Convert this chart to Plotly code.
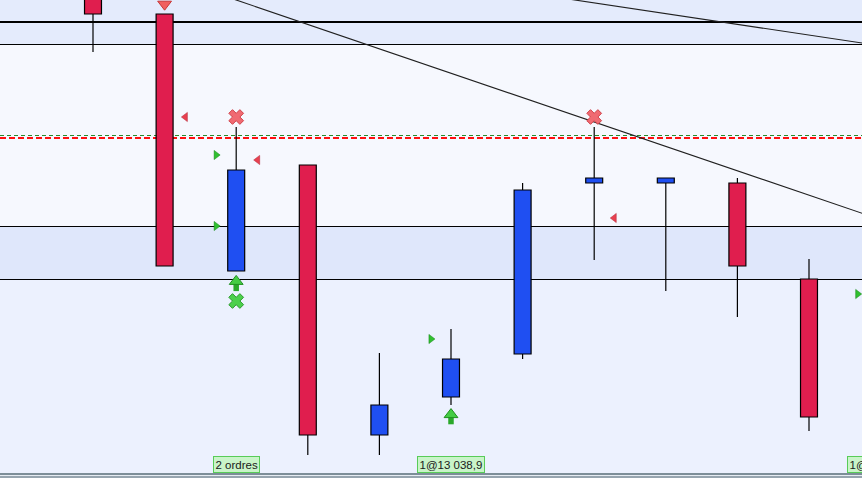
import plotly.graph_objects as go

# ---------------- data ----------------
candle_idx = list(range(11))
opens  = [13105.0, 13096.5, 13032.25, 13058.75, 12991.25, 13000.75, 13011.5, 13054.25, 13054.25, 13054.25, 13030.25]
highs  = [13108.0, 13096.5, 13068.25, 13058.75, 13011.75, 13017.75, 13054.25, 13068.25, 13055.5, 13055.5, 13035.25]
lows   = [13087.0, 13033.5, 13032.25, 12986.25, 12986.25, 12998.75, 13010.25, 13035.0, 13027.25, 13020.75, 12992.25]
closes = [13096.5, 13033.5, 13057.5, 12991.25, 12998.75, 13010.25, 13052.5, 13055.5, 13055.5, 13033.5, 12995.75]

# horizontal price levels
level_thick = 13094.5
levels_thin = [13088.875, 13043.375, 13030.125]
level_green_dash = 13066.125
level_red_dash = 13065.5

# background bands (low, high)
bands = [(13088.875, 13120.0), (13043.375, 13088.875), (13030.125, 13043.375), (12970.0, 13030.125)]
band_colors = ["#e4ebfc", "#f6f8fe", "#dfe7fb", "#ecf1fe"]

# trend lines (x0, y0, x1, y1) in candle index / price
trend_x0 = [1.0, 6.0]
trend_y0 = [13106.1, 13101.96]
trend_x1 = [11.0, 11.0]
trend_y1 = [13045.1, 13088.55]

# order markers
sell_arrow_x = [1.0]
sell_arrow_y = [13099.2]
buy_arrow_x = [2.0, 5.0]
buy_arrow_y = [13029.4, 12996.1]
red_x_x = [2.0, 7.0]
red_x_y = [13070.75, 13070.75]
green_x_x = [2.0]
green_x_y = [13024.75]
red_tri_x = [1.29, 2.3, 7.28]
red_tri_y = [13070.75, 13060.0, 13045.5]
green_tri_x = [1.72, 1.72, 4.72, 10.68]
green_tri_y = [13061.25, 13043.5, 13015.25, 13026.5]

# order labels
label_idx = [2, 5, 11]
label_text = ["2 ordres", "1@13 038,9", "1@13 038,9"]

# ---------------- figure ----------------
PX = 0.25  # price per pixel
SLOT = 71.6  # pixels per candle
up_color = "#1f4ff2"
down_color = "#e01e4e"
x0_idx = -93 / SLOT
x1_idx = (862 - 93) / SLOT

fig = go.Figure()

# wicks (split so they don't cross the bodies)
wx, wy = [], []
for i, o, h, l, c in zip(candle_idx, opens, highs, lows, closes):
    top, bot = max(o, c), min(o, c)
    if h > top:
        wx += [i, i, None]
        wy += [top, h, None]
    if l < bot:
        wx += [i, i, None]
        wy += [l, bot, None]
fig.add_trace(go.Scatter(x=wx, y=wy, mode="lines", line=dict(color="black", width=1.2),
                         hoverinfo="skip", showlegend=False))

# bodies
bases = [min(o, c) for o, c in zip(opens, closes)]
heights = [abs(c - o) for o, c in zip(opens, closes)]
colors = [up_color if c > o else down_color for o, c in zip(opens, closes)]
fig.add_trace(go.Bar(x=candle_idx, y=heights, base=bases, width=0.237,
                     marker=dict(color=colors, line=dict(color="black", width=1.2)),
                     hoverinfo="skip", showlegend=False))

# sell arrow (down): stem + head
fig.add_trace(go.Scatter(x=sell_arrow_x, y=[v + 4.5 * PX for v in sell_arrow_y], mode="markers",
                         marker=dict(symbol="line-ns", size=6, line=dict(color="#e85050", width=5)),
                         hoverinfo="skip", showlegend=False, cliponaxis=False))
fig.add_trace(go.Scatter(x=sell_arrow_x, y=[v - 1 * PX for v in sell_arrow_y], mode="markers",
                         marker=dict(symbol="triangle-down", size=12, color="#f06060",
                                     line=dict(color="#c83838", width=1)),
                         hoverinfo="skip", showlegend=False, cliponaxis=False))

# buy arrows (up): stem + head
fig.add_trace(go.Scatter(x=buy_arrow_x, y=[v - 4.5 * PX for v in buy_arrow_y], mode="markers",
                         marker=dict(symbol="line-ns", size=6, line=dict(color="#2aa82a", width=5.5)),
                         hoverinfo="skip", showlegend=False))
fig.add_trace(go.Scatter(x=buy_arrow_x, y=[v + 1 * PX for v in buy_arrow_y], mode="markers",
                         marker=dict(symbol="triangle-up", size=12, color="#44cc44",
                                     line=dict(color="#1f8f1f", width=1)),
                         hoverinfo="skip", showlegend=False))

# X markers
fig.add_trace(go.Scatter(x=red_x_x, y=red_x_y, mode="markers",
                         marker=dict(symbol="x", size=13, color="#f06a72",
                                     line=dict(color="#d04048", width=1)),
                         hoverinfo="skip", showlegend=False))
fig.add_trace(go.Scatter(x=green_x_x, y=green_x_y, mode="markers",
                         marker=dict(symbol="x", size=13, color="#4cd04c",
                                     line=dict(color="#2a9a2a", width=1)),
                         hoverinfo="skip", showlegend=False))

# small triangles
fig.add_trace(go.Scatter(x=red_tri_x, y=red_tri_y, mode="markers",
                         marker=dict(symbol="triangle-left", size=8, color="#e84050",
                                     line=dict(color="#b02030", width=0.5)),
                         hoverinfo="skip", showlegend=False))
fig.add_trace(go.Scatter(x=green_tri_x, y=green_tri_y, mode="markers",
                         marker=dict(symbol="triangle-right", size=8, color="#30c030",
                                     line=dict(color="#108010", width=0.5)),
                         hoverinfo="skip", showlegend=False))

shapes = []
for (lo, hi), col in zip(bands, band_colors):
    shapes.append(dict(type="rect", xref="paper", yref="y", x0=0, x1=1, y0=lo, y1=hi,
                       fillcolor=col, line=dict(width=0), layer="below"))
shapes.append(dict(type="line", xref="paper", yref="y", x0=0, x1=1, y0=level_thick, y1=level_thick,
                   line=dict(color="black", width=2), layer="below"))
for lv in levels_thin:
    shapes.append(dict(type="line", xref="paper", yref="y", x0=0, x1=1, y0=lv, y1=lv,
                       line=dict(color="black", width=1), layer="below"))
shapes.append(dict(type="line", xref="paper", yref="y", x0=0, x1=1, y0=level_green_dash, y1=level_green_dash,
                   line=dict(color="#2a8a2a", width=1, dash="4px,3px"), layer="below"))
shapes.append(dict(type="line", xref="paper", yref="y", x0=0, x1=1, y0=level_red_dash, y1=level_red_dash,
                   line=dict(color="#ff1010", width=2, dash="6px,3px"), layer="below"))
for x0, y0, x1, y1 in zip(trend_x0, trend_y0, trend_x1, trend_y1):
    shapes.append(dict(type="line", xref="x", yref="y", x0=x0, y0=y0, x1=x1, y1=y1,
                       line=dict(color="#202020", width=1.1), layer="below"))
# bottom frame
shapes.append(dict(type="rect", xref="paper", yref="paper", x0=0, x1=1, y0=-0.01, y1=4 / 478,
                   fillcolor="#e6ecf2", line=dict(width=0), layer="above"))
shapes.append(dict(type="line", xref="paper", yref="paper", x0=0, x1=1, y0=4 / 478, y1=4 / 478,
                   line=dict(color="#7d8e98", width=2), layer="above"))
shapes.append(dict(type="line", xref="paper", yref="paper", x0=0, x1=1, y0=1 / 478, y1=1 / 478,
                   line=dict(color="#7d8e98", width=1.5), layer="above"))

annotations = []
for i, t in zip(label_idx, label_text):
    xa = min(i, 10.5)
    annotations.append(dict(x=xa, xshift=(i - xa) * SLOT, y=5 / 478, xref="x", yref="paper", text=t,
                            showarrow=False, xanchor="center", yanchor="bottom",
                            font=dict(family="Liberation Sans, Arial", size=11.5, color="#1a1a1a"),
                            bgcolor="#c9f4c9", bordercolor="#58cc58", borderwidth=1, borderpad=1.5))

fig.update_layout(
    width=862, height=478,
    margin=dict(l=0, r=0, t=0, b=0),
    paper_bgcolor="#ffffff", plot_bgcolor="#f6f8fe",
    xaxis=dict(range=[x0_idx, x1_idx], visible=False, fixedrange=True),
    yaxis=dict(range=[13100 - 478 * PX, 13100], visible=False, fixedrange=True),
    barmode="overlay",
    shapes=shapes, annotations=annotations,
    showlegend=False,
)

fig.write_html("out.html", config={"displayModeBar": False},
               post_script="document.body.style.margin='0';document.body.style.overflow='hidden';")
